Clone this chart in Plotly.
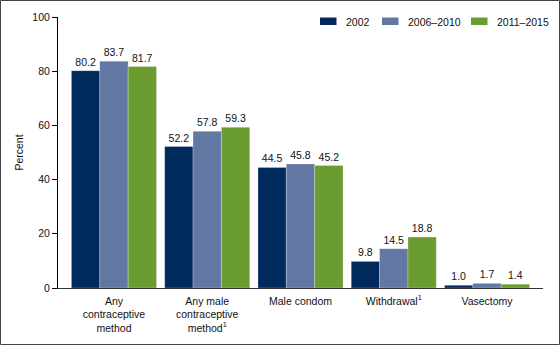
import plotly.graph_objects as go

categories = ["Any<br>contraceptive<br>method", "Any male<br>contraceptive<br>method<sup>1</sup>",
              "Male condom", "Withdrawal<sup>1</sup>", "Vasectomy"]
series_names = ["2002", "2006–2010", "2011–2015"]
v2002 = [80.2, 52.2, 44.5, 9.8, 1.0]
v2006 = [83.7, 57.8, 45.8, 14.5, 1.7]
v2011 = [81.7, 59.3, 45.2, 18.8, 1.4]
colors = ["#002a5c", "#6277a1", "#6a9c32"]
y_ticks = [0, 20, 40, 60, 80, 100]

FONT = "Liberation Sans, Arial"
FS = 10.5

fig = go.Figure()
for name, vals, col in zip(series_names, [v2002, v2006, v2011], colors):
    fig.add_trace(go.Bar(
        x=categories, y=vals, name=name,
        marker=dict(color=col, line=dict(color="rgba(255,255,255,0.5)", width=0.5)),
        text=[f"{v:.1f}" for v in vals], textposition="outside",
        textfont=dict(family=FONT, size=FS, color="#111"),
        cliponaxis=False, showlegend=False,
    ))

L, R, T, B = 58, 17, 17, 57
W, H = 560, 345
pw, ph = W - L - R, H - T - B

def px_x(x):
    return (x - L) / pw

def px_y(y):
    return 1 - (y - T) / ph

fig.update_layout(
    width=W, height=H,
    margin=dict(l=L, r=R, t=T, b=B, autoexpand=False),
    paper_bgcolor="white", plot_bgcolor="white",
    barmode="group", bargap=0.088, bargroupgap=0,
    font=dict(family=FONT, size=FS, color="#111"),
    showlegend=False,
    xaxis=dict(range=[-0.6, 4.6], showline=True, linecolor="#333", linewidth=1,
               ticks="", showgrid=False, zeroline=False, automargin=False,
               ticklabelstandoff=3, tickfont=dict(size=FS)),
    yaxis=dict(range=[0, 100], tickvals=y_ticks, showline=True, linecolor="#000",
               linewidth=1, ticks="outside", ticklen=5, tickcolor="#000",
               showgrid=False, zeroline=False, tickfont=dict(size=FS), automargin=False,
               title=dict(text="Percent", font=dict(size=FS), standoff=6)),
)

# legend drawn manually: swatch x positions (px) and text
legend_x = [320, 382, 471]
for name, col, lx in zip(series_names, colors, legend_x):
    fig.add_shape(type="rect", xref="paper", yref="paper",
                  x0=px_x(lx), x1=px_x(lx + 16.5), y0=px_y(25), y1=px_y(17.5),
                  line=dict(width=0), fillcolor=col)
    fig.add_annotation(xref="paper", yref="paper", x=px_x(lx + 24), y=px_y(21.5),
                       xanchor="left", yanchor="middle", showarrow=False,
                       text=name, font=dict(family=FONT, size=FS, color="#111"))

fig.add_shape(type="rect", xref="paper", yref="paper",
              x0=px_x(0.5), x1=px_x(W - 0.5), y0=px_y(H - 0.5), y1=px_y(0.5),
              line=dict(color="#444", width=1), fillcolor="rgba(0,0,0,0)", layer="above")

fig.write_html("out.html")
